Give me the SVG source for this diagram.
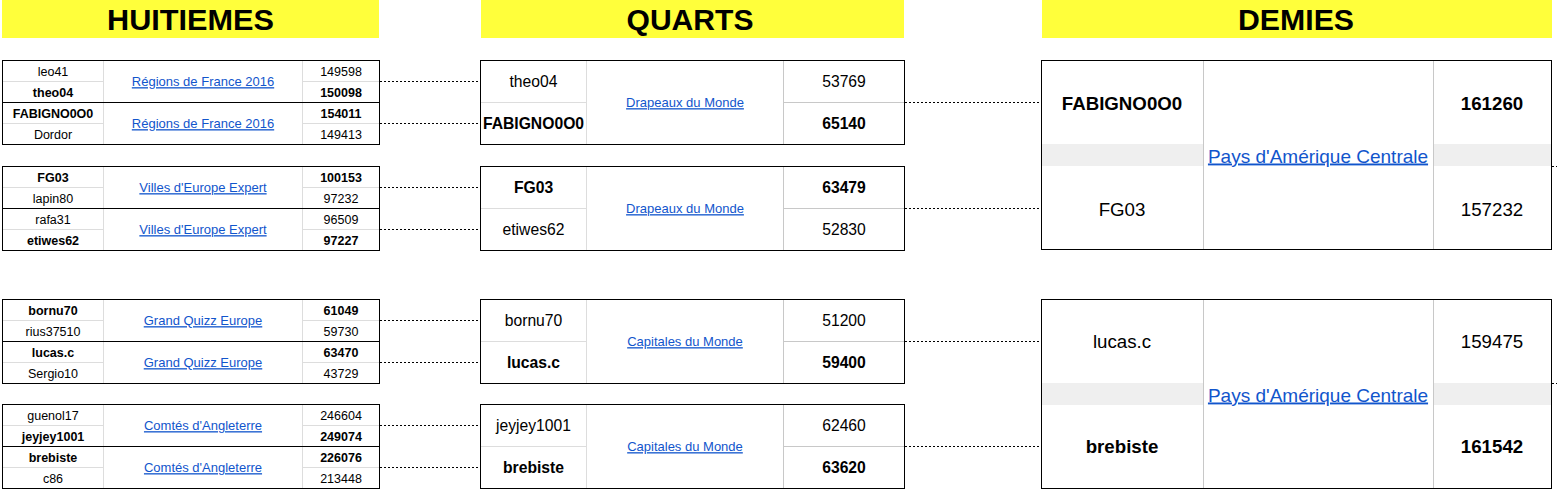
<svg xmlns="http://www.w3.org/2000/svg" width="1557" height="495" viewBox="0 0 1557 495">
<style>
text{font-family:"Liberation Sans",Arial,sans-serif;fill:#000;text-anchor:middle}
.hb{fill:#ffff3b}
.ht{font-size:29px;font-weight:bold}
.box{fill:#fff;stroke:#000;stroke-width:1}
.gl{stroke:#dddddd;stroke-width:1}
.gd{stroke:#c8c8c8;stroke-width:1}
.bl{stroke:#000;stroke-width:1}
.band{fill:#efefef}
.s{font-size:12.5px}
.m{font-size:15.7px}
.l{font-size:18.7px}
.b{font-weight:bold}
.lk{fill:#1155cc;text-decoration:underline}
.lk13{font-size:13px}
.lk19{font-size:19px}
.con line{stroke:#000;stroke-width:1;stroke-dasharray:2 2}
</style>

<g id="headers">
  <g id="h-huitiemes"><rect class="hb" x="2" y="0" width="377" height="38"/><text class="ht" x="190.5" y="29.5" textLength="167" lengthAdjust="spacingAndGlyphs">HUITIEMES</text></g>
  <g id="h-quarts"><rect class="hb" x="481" y="0" width="423" height="38"/><text class="ht" x="690" y="29.5" textLength="127" lengthAdjust="spacingAndGlyphs">QUARTS</text></g>
  <g id="h-demies"><rect class="hb" x="1042" y="0" width="510" height="38"/><text class="ht" x="1296" y="29.5" textLength="116" lengthAdjust="spacingAndGlyphs">DEMIES</text></g>
</g>

<g id="connectors" class="con">
  <line x1="380" y1="81.5" x2="480" y2="81.5"/>
  <line x1="380" y1="123.5" x2="480" y2="123.5"/>
  <line x1="380" y1="187.5" x2="480" y2="187.5"/>
  <line x1="380" y1="229.5" x2="480" y2="229.5"/>
  <line x1="380" y1="320.5" x2="480" y2="320.5"/>
  <line x1="380" y1="362.5" x2="480" y2="362.5"/>
  <line x1="380" y1="425.5" x2="480" y2="425.5"/>
  <line x1="380" y1="467.5" x2="480" y2="467.5"/>
  <line x1="905" y1="102.5" x2="1041" y2="102.5"/>
  <line x1="905" y1="208.5" x2="1041" y2="208.5"/>
  <line x1="905" y1="341.5" x2="1041" y2="341.5"/>
  <line x1="905" y1="446.5" x2="1041" y2="446.5"/>
  <line x1="1552" y1="166.5" x2="1557" y2="166.5"/>
  <line x1="1552" y1="383.5" x2="1557" y2="383.5"/>
</g>

<!-- HUITIEMES -->
<g id="h1">
  <rect class="box" x="2.5" y="60.5" width="377" height="84"/>
  <line class="gl" x1="103.5" y1="61" x2="103.5" y2="144"/>
  <line class="gl" x1="302.5" y1="61" x2="302.5" y2="144"/>
  <line class="gl" x1="3" y1="81.5" x2="103" y2="81.5"/><line class="gl" x1="303" y1="81.5" x2="379" y2="81.5"/>
  <line class="gl" x1="3" y1="123.5" x2="103" y2="123.5"/><line class="gl" x1="303" y1="123.5" x2="379" y2="123.5"/>
  <line class="bl" x1="2.5" y1="102.5" x2="379.5" y2="102.5"/>
  <text class="s" x="53" y="75.5">leo41</text><text class="s" x="341" y="75.5">149598</text>
  <text class="s b" x="53" y="96.5">theo04</text><text class="s b" x="341" y="96.5">150098</text>
  <text class="s b" x="53" y="117.5">FABIGNO0O0</text><text class="s b" x="341" y="117.5">154011</text>
  <text class="s" x="53" y="138.5">Dordor</text><text class="s" x="341" y="138.5">149413</text>
  <text class="lk lk13" x="203" y="86.2">Régions de France 2016</text>
  <text class="lk lk13" x="203" y="128.2">Régions de France 2016</text>
</g>
<g id="h2">
  <rect class="box" x="2.5" y="166.5" width="377" height="84"/>
  <line class="gl" x1="103.5" y1="167" x2="103.5" y2="250"/>
  <line class="gl" x1="302.5" y1="167" x2="302.5" y2="250"/>
  <line class="gl" x1="3" y1="187.5" x2="103" y2="187.5"/><line class="gl" x1="303" y1="187.5" x2="379" y2="187.5"/>
  <line class="gl" x1="3" y1="229.5" x2="103" y2="229.5"/><line class="gl" x1="303" y1="229.5" x2="379" y2="229.5"/>
  <line class="bl" x1="2.5" y1="208.5" x2="379.5" y2="208.5"/>
  <text class="s b" x="53" y="181.5">FG03</text><text class="s b" x="341" y="181.5">100153</text>
  <text class="s" x="53" y="202.5">lapin80</text><text class="s" x="341" y="202.5">97232</text>
  <text class="s" x="53" y="223.5">rafa31</text><text class="s" x="341" y="223.5">96509</text>
  <text class="s b" x="53" y="244.5">etiwes62</text><text class="s b" x="341" y="244.5">97227</text>
  <text class="lk lk13" x="203" y="192.2">Villes d'Europe Expert</text>
  <text class="lk lk13" x="203" y="234.2">Villes d'Europe Expert</text>
</g>
<g id="h3">
  <rect class="box" x="2.5" y="299.5" width="377" height="84"/>
  <line class="gl" x1="103.5" y1="300" x2="103.5" y2="383"/>
  <line class="gl" x1="302.5" y1="300" x2="302.5" y2="383"/>
  <line class="gl" x1="3" y1="320.5" x2="103" y2="320.5"/><line class="gl" x1="303" y1="320.5" x2="379" y2="320.5"/>
  <line class="gl" x1="3" y1="362.5" x2="103" y2="362.5"/><line class="gl" x1="303" y1="362.5" x2="379" y2="362.5"/>
  <line class="bl" x1="2.5" y1="341.5" x2="379.5" y2="341.5"/>
  <text class="s b" x="53" y="314.5">bornu70</text><text class="s b" x="341" y="314.5">61049</text>
  <text class="s" x="53" y="335.5">rius37510</text><text class="s" x="341" y="335.5">59730</text>
  <text class="s b" x="53" y="356.5">lucas.c</text><text class="s b" x="341" y="356.5">63470</text>
  <text class="s" x="53" y="377.5">Sergio10</text><text class="s" x="341" y="377.5">43729</text>
  <text class="lk lk13" x="203" y="325.2">Grand Quizz Europe</text>
  <text class="lk lk13" x="203" y="367.2">Grand Quizz Europe</text>
</g>
<g id="h4">
  <rect class="box" x="2.5" y="404.5" width="377" height="84"/>
  <line class="gl" x1="103.5" y1="405" x2="103.5" y2="488"/>
  <line class="gl" x1="302.5" y1="405" x2="302.5" y2="488"/>
  <line class="gl" x1="3" y1="425.5" x2="103" y2="425.5"/><line class="gl" x1="303" y1="425.5" x2="379" y2="425.5"/>
  <line class="gl" x1="3" y1="467.5" x2="103" y2="467.5"/><line class="gl" x1="303" y1="467.5" x2="379" y2="467.5"/>
  <line class="bl" x1="2.5" y1="446.5" x2="379.5" y2="446.5"/>
  <text class="s" x="53" y="419.5">guenol17</text><text class="s" x="341" y="419.5">246604</text>
  <text class="s b" x="53" y="440.5">jeyjey1001</text><text class="s b" x="341" y="440.5">249074</text>
  <text class="s b" x="53" y="461.5">brebiste</text><text class="s b" x="341" y="461.5">226076</text>
  <text class="s" x="53" y="482.5">c86</text><text class="s" x="341" y="482.5">213448</text>
  <text class="lk lk13" x="203" y="430.2">Comtés d'Angleterre</text>
  <text class="lk lk13" x="203" y="472.2">Comtés d'Angleterre</text>
</g>

<!-- QUARTS -->
<g id="q1">
  <rect class="box" x="480.5" y="60.5" width="424" height="84"/>
  <line class="gl" x1="586.5" y1="61" x2="586.5" y2="144"/>
  <line class="gd" x1="783.5" y1="61" x2="783.5" y2="144"/>
  <line class="gl" x1="481" y1="102.5" x2="586" y2="102.5"/><line class="gd" x1="784" y1="102.5" x2="904" y2="102.5"/>
  <text class="m" x="533.5" y="87.1">theo04</text><text class="m" x="844" y="87.1">53769</text>
  <text class="m b" x="533.5" y="129.1">FABIGNO0O0</text><text class="m b" x="844" y="129.1">65140</text>
  <text class="lk lk13" x="685" y="107.2">Drapeaux du Monde</text>
</g>
<g id="q2">
  <rect class="box" x="480.5" y="166.5" width="424" height="84"/>
  <line class="gl" x1="586.5" y1="167" x2="586.5" y2="250"/>
  <line class="gd" x1="783.5" y1="167" x2="783.5" y2="250"/>
  <line class="gl" x1="481" y1="208.5" x2="586" y2="208.5"/><line class="gd" x1="784" y1="208.5" x2="904" y2="208.5"/>
  <text class="m b" x="533.5" y="193.1">FG03</text><text class="m b" x="844" y="193.1">63479</text>
  <text class="m" x="533.5" y="235.1">etiwes62</text><text class="m" x="844" y="235.1">52830</text>
  <text class="lk lk13" x="685" y="213.2">Drapeaux du Monde</text>
</g>
<g id="q3">
  <rect class="box" x="480.5" y="299.5" width="424" height="84"/>
  <line class="gl" x1="586.5" y1="300" x2="586.5" y2="383"/>
  <line class="gd" x1="783.5" y1="300" x2="783.5" y2="383"/>
  <line class="gl" x1="481" y1="341.5" x2="586" y2="341.5"/><line class="gd" x1="784" y1="341.5" x2="904" y2="341.5"/>
  <text class="m" x="533.5" y="326.1">bornu70</text><text class="m" x="844" y="326.1">51200</text>
  <text class="m b" x="533.5" y="368.1">lucas.c</text><text class="m b" x="844" y="368.1">59400</text>
  <text class="lk lk13" x="685" y="346.2">Capitales du Monde</text>
</g>
<g id="q4">
  <rect class="box" x="480.5" y="404.5" width="424" height="84"/>
  <line class="gl" x1="586.5" y1="405" x2="586.5" y2="488"/>
  <line class="gd" x1="783.5" y1="405" x2="783.5" y2="488"/>
  <line class="gl" x1="481" y1="446.5" x2="586" y2="446.5"/><line class="gd" x1="784" y1="446.5" x2="904" y2="446.5"/>
  <text class="m" x="533.5" y="431.1">jeyjey1001</text><text class="m" x="844" y="431.1">62460</text>
  <text class="m b" x="533.5" y="473.1">brebiste</text><text class="m b" x="844" y="473.1">63620</text>
  <text class="lk lk13" x="685" y="451.2">Capitales du Monde</text>
</g>

<!-- DEMIES -->
<g id="d1">
  <rect class="box" x="1041.5" y="60.5" width="510" height="189"/>
  <rect class="band" x="1042" y="144" width="161" height="22"/>
  <rect class="band" x="1434" y="144" width="117" height="22"/>
  <line class="gd" x1="1203.5" y1="61" x2="1203.5" y2="249"/>
  <line class="gd" x1="1433.5" y1="61" x2="1433.5" y2="249"/>
  <text class="l b" x="1122" y="110">FABIGNO0O0</text><text class="l b" x="1492" y="110">161260</text>
  <text class="l" x="1122" y="215.5">FG03</text><text class="l" x="1492" y="215.5">157232</text>
  <text class="lk lk19" x="1318" y="162.5">Pays d'Amérique Centrale</text>
</g>
<g id="d2">
  <rect class="box" x="1041.5" y="299.5" width="510" height="189"/>
  <rect class="band" x="1042" y="383" width="161" height="22"/>
  <rect class="band" x="1434" y="383" width="117" height="22"/>
  <line class="gd" x1="1203.5" y1="300" x2="1203.5" y2="488"/>
  <line class="gd" x1="1433.5" y1="300" x2="1433.5" y2="488"/>
  <text class="l" x="1122" y="348">lucas.c</text><text class="l" x="1492" y="348">159475</text>
  <text class="l b" x="1122" y="453">brebiste</text><text class="l b" x="1492" y="453">161542</text>
  <text class="lk lk19" x="1318" y="401.5">Pays d'Amérique Centrale</text>
</g>
</svg>
